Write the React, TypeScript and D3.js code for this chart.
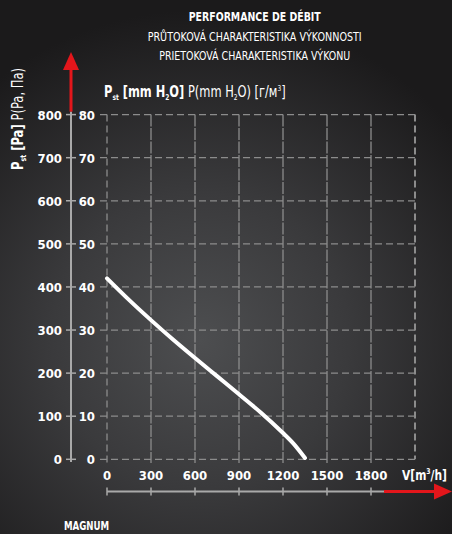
import React from "react";
import * as d3 from "d3";

const flowValues = [0, 150, 300, 450, 600, 750, 900, 1050, 1200, 1270, 1350];
const pressureMm = [42, 37, 32.3, 27.8, 23.5, 19.3, 15.1, 10.8, 6.1, 3.7, 0.3];
const xTicks = [0, 300, 600, 900, 1200, 1500, 1800];
const yTicksMm = [0, 10, 20, 30, 40, 50, 60, 70, 80];
const yTicksPa = [0, 100, 200, 300, 400, 500, 600, 700, 800];
const titleLines = [
  "PERFORMANCE DE DÉBIT",
  "PRŮTOKOVÁ CHARAKTERISTIKA VÝKONNOSTI",
  "PRIETOKOVÁ CHARAKTERISTIKA VÝKONU",
];
const titleWidths = [132, 214, 191];

const W = 452;
const H = 534;
const FONT = "'DejaVu Sans Condensed', 'Liberation Sans Narrow', sans-serif";

export default function App() {
  const x = d3.scaleLinear().domain([0, 2100]).range([107, 415]);
  const y = d3.scaleLinear().domain([0, 80]).range([459.3, 114.6]);
  const yPa = d3.scaleLinear().domain([0, 800]).range([459.3, 114.6]);
  const pts: [number, number][] = flowValues.map((v, i) => [v, pressureMm[i]]);
  const line = d3
    .line<[number, number]>()
    .x((d) => x(d[0]))
    .y((d) => y(d[1]))
    .curve(d3.curveCatmullRom.alpha(0.5));
  const grid = "#8c8c8c";
  const axisY = 491.5;
  const titleY = [20.6, 40.5, 60];

  return (
    <svg
      width={W}
      height={H}
      style={{ position: "absolute", left: 0, top: 0, display: "block" }}
      fontFamily={FONT}
    >
      <defs>
        <radialGradient id="bg" cx="200" cy="340" r="330" gradientUnits="userSpaceOnUse">
          <stop offset="0" stopColor="#4d4e50" />
          <stop offset="0.45" stopColor="#3a3a3c" />
          <stop offset="1" stopColor="#1b1a1b" />
        </radialGradient>
      </defs>
      <rect x={0} y={0} width={W} height={H} fill="url(#bg)" />

      {/* titles */}
      {titleLines.map((t, i) => (
        <text
          key={t}
          x={254.7 - titleWidths[i] / 2}
          y={titleY[i]}
          textLength={titleWidths[i]}
          lengthAdjust="spacingAndGlyphs"
          fill="#fff"
          fontSize={12.8}
          fontWeight={i === 0 ? "bold" : "normal"}
        >
          {t}
        </text>
      ))}

      {/* unit label top */}
      <g transform="translate(104,97) scale(0.82,1)">
        <text x={0} y={0} fill="#fff" fontSize={15.5}>
          <tspan fontWeight="bold">P</tspan>
          <tspan fontWeight="bold" fontSize={8} dy={3}>st</tspan>
          <tspan fontWeight="bold" dy={-3}> [mm H</tspan>
          <tspan fontWeight="bold" fontSize={8} dy={3}>2</tspan>
          <tspan fontWeight="bold" dy={-3}>O]</tspan>
          <tspan> P(mm H</tspan>
          <tspan fontSize={8} dy={3}>2</tspan>
          <tspan dy={-3}>O) [г/м</tspan>
          <tspan fontSize={8} dy={-6}>3</tspan>
          <tspan dy={6}>]</tspan>
        </text>
      </g>

      {/* rotated left label */}
      <g transform="translate(23,170) rotate(-90) scale(0.86,1)">
        <text x={0} y={0} fill="#fff" fontSize={15}>
          <tspan fontWeight="bold">P</tspan>
          <tspan fontWeight="bold" fontSize={8} dy={3}>st</tspan>
          <tspan fontWeight="bold" dy={-3}> [Pa]</tspan>
          <tspan> P(Pa, Па)</tspan>
        </text>
      </g>

      {/* grid horizontal */}
      {yTicksMm.map((t) => (
        <line
          key={"h" + t}
          x1={100}
          x2={415}
          y1={y(t)}
          y2={y(t)}
          stroke={grid}
          strokeWidth={1.3}
          strokeDasharray="7,4"
        />
      ))}
      {/* grid vertical */}
      {xTicks.map((t) => (
        <line
          key={"v" + t}
          x1={x(t)}
          x2={x(t)}
          y1={y(80)}
          y2={463}
          stroke={grid}
          strokeWidth={1.3}
          strokeDasharray={t === 0 ? "7,4" : "12,1.5"}
        />
      ))}
      <line
        x1={x(2100)}
        x2={x(2100)}
        y1={y(80)}
        y2={y(0)}
        stroke={grid}
        strokeWidth={2}
        strokeDasharray="7,4"
      />

      {/* inner mm labels */}
      {yTicksMm.map((t) => (
        <text
          key={"lm" + t}
          x={95}
          y={y(t) + 5}
          textAnchor="end"
          fill="#fff"
          fontSize={13}
          fontWeight="bold"
        >
          {t}
        </text>
      ))}

      {/* outer Pa axis */}
      <line x1={71} x2={71} y1={yPa(800) - 3} y2={462} stroke="#a9a9a9" strokeWidth={2} />
      <line x1={71} x2={71} y1={70} y2={yPa(800) - 3} stroke="#e3161b" strokeWidth={3} />
      <path d="M63,70 L71,52 L79,70 Z" fill="#e3161b" />
      {yTicksPa.map((t) => (
        <g key={"p" + t}>
          <line x1={66} x2={76} y1={yPa(t)} y2={yPa(t)} stroke="#a9a9a9" strokeWidth={1.5} />
          <text x={62} y={yPa(t) + 5} textAnchor="end" fill="#fff" fontSize={13} fontWeight="bold">
            {t}
          </text>
        </g>
      ))}

      {/* x labels */}
      {xTicks.map((t) => (
        <text
          key={"xl" + t}
          x={x(t)}
          y={480}
          textAnchor="middle"
          fill="#fff"
          fontSize={13}
          fontWeight="bold"
        >
          {t}
        </text>
      ))}
      <g transform="translate(402,480) scale(0.85,1)">
        <text x={0} y={0} fill="#fff" fontSize={14} fontWeight="bold">
          V[m<tspan fontSize={8} dy={-6}>3</tspan>
          <tspan dy={6}>/h]</tspan>
        </text>
      </g>

      {/* bottom axis */}
      <line x1={x(0)} x2={385} y1={axisY} y2={axisY} stroke="#a9a9a9" strokeWidth={2} />
      <line x1={384} x2={436} y1={axisY} y2={axisY} stroke="#e3161b" strokeWidth={3} />
      <path d={`M434,${axisY - 8} L452,${axisY} L434,${axisY + 8} Z`} fill="#e3161b" />
      {xTicks.map((t) => (
        <line
          key={"xt" + t}
          x1={x(t)}
          x2={x(t)}
          y1={axisY - 4}
          y2={axisY + 4}
          stroke="#a9a9a9"
          strokeWidth={1.5}
        />
      ))}

      {/* curve */}
      <path
        d={line(pts) || ""}
        fill="none"
        stroke="#fff"
        strokeWidth={4}
        strokeLinecap="round"
      />

      <g transform="translate(64,530) scale(0.8,1)">
        <text x={0} y={0} fill="#fff" fontSize={12} fontWeight="bold">
          MAGNUM
        </text>
      </g>
    </svg>
  );
}
